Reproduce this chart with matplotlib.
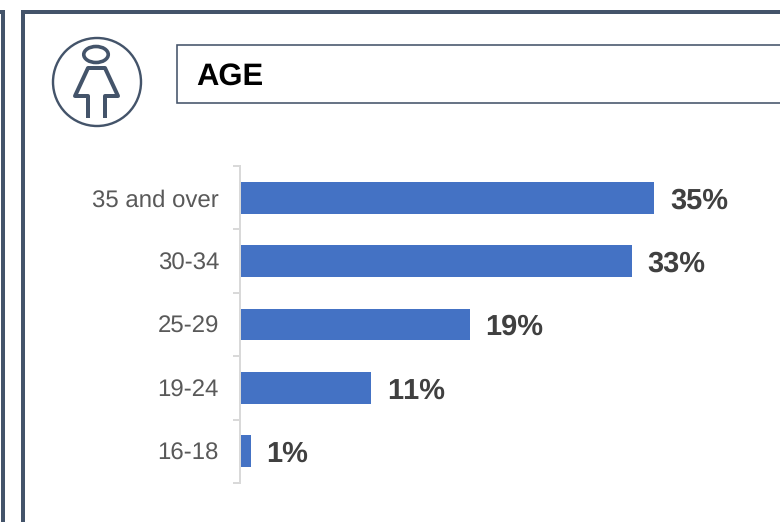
import matplotlib.pyplot as plt
from matplotlib.patches import Circle, Ellipse, Rectangle

plt.rcParams["font.family"] = ["Liberation Sans", "DejaVu Sans"]
plt.rcParams["text.hinting"] = "no_hinting"
plt.rcParams["text.hinting_factor"] = 1
plt.rcParams["text.kerning_factor"] = 6

categories = ["16-18", "19-24", "25-29", "30-34", "35 and over"]
values = [0.9, 11.1, 19.4, 33.1, 35.0]
value_labels = ["1%", "11%", "19%", "33%", "35%"]

W, H = 780, 522
DARK = "#44546A"
PX = 72 / 100  # one pixel in points


def px_axes(fig, left, top, right, bottom):
    return fig.add_axes([left / W, 1 - bottom / H, (right - left) / W, (bottom - top) / H])


fig = plt.figure(figsize=(W / 100, H / 100), dpi=100, facecolor="white")

# panel frames, title box and icon, in pixel coordinates
bg = fig.add_axes([0, 0, 1, 1])
bg.set_xlim(0, W)
bg.set_ylim(H, 0)
bg.axis("off")

bg.plot([-5, 2.5, 2.5], [12, 12, H + 5], color=DARK, lw=4 * PX, solid_joinstyle="miter")
bg.plot([23, 23, W + 5], [H + 5, 12, 12], color=DARK, lw=4 * PX, solid_joinstyle="miter")
bg.add_patch(Rectangle((177, 44.5), W, 58.5, fc="white", ec=DARK, lw=1.6 * PX))
bg.text(196.5, 73.5, "AGE", fontsize=22, fontweight="bold", color="black", va="center_baseline", ha="left")

bg.add_patch(Circle((97, 82), 44, fc="none", ec=DARK, lw=2.4 * PX))
bg.add_patch(Ellipse((96, 54.5), 24.5, 16, fc="none", ec=DARK, lw=3.6 * PX))
bg.plot([88, 105, 118, 105, 105], [68, 68, 96, 96, 118], color=DARK, lw=4 * PX,
        solid_joinstyle="round", solid_capstyle="butt")
bg.plot([105, 88, 75, 88, 88], [68, 68, 96, 96, 118], color=DARK, lw=4 * PX,
        solid_joinstyle="round", solid_capstyle="butt")

# bar chart
ax = px_axes(fig, 240, 166, W, 483)
ax.patch.set_alpha(0)
ypos = range(len(categories))
ax.barh(ypos, values, height=0.5, color="#4472C4")
ax.set_xlim(0, (W - 240) / 11.83)
ax.set_ylim(-0.5, len(categories) - 0.5)

for y, v, lab in zip(ypos, values, value_labels):
    ax.annotate(lab, (v, y), xytext=(16 * PX, 0), textcoords="offset points",
                fontsize=21, fontweight="bold", color="#404040", va="center_baseline", ha="left")

for side in ("top", "right", "bottom"):
    ax.spines[side].set_visible(False)
ax.spines["left"].set_color("#D9D9D9")
ax.spines["left"].set_linewidth(2 * PX)

ax.xaxis.set_visible(False)
ax.set_yticks(list(ypos))
ax.set_yticklabels(categories, fontsize=17, color="#595959")
ax.set_yticks([i - 0.5 for i in range(len(categories) + 1)], minor=True)
ax.tick_params(axis="y", which="major", length=0, pad=21 * PX)
ax.tick_params(axis="y", which="minor", length=7 * PX, width=2 * PX, color="#D9D9D9")

fig.savefig("out.png", dpi=100)
